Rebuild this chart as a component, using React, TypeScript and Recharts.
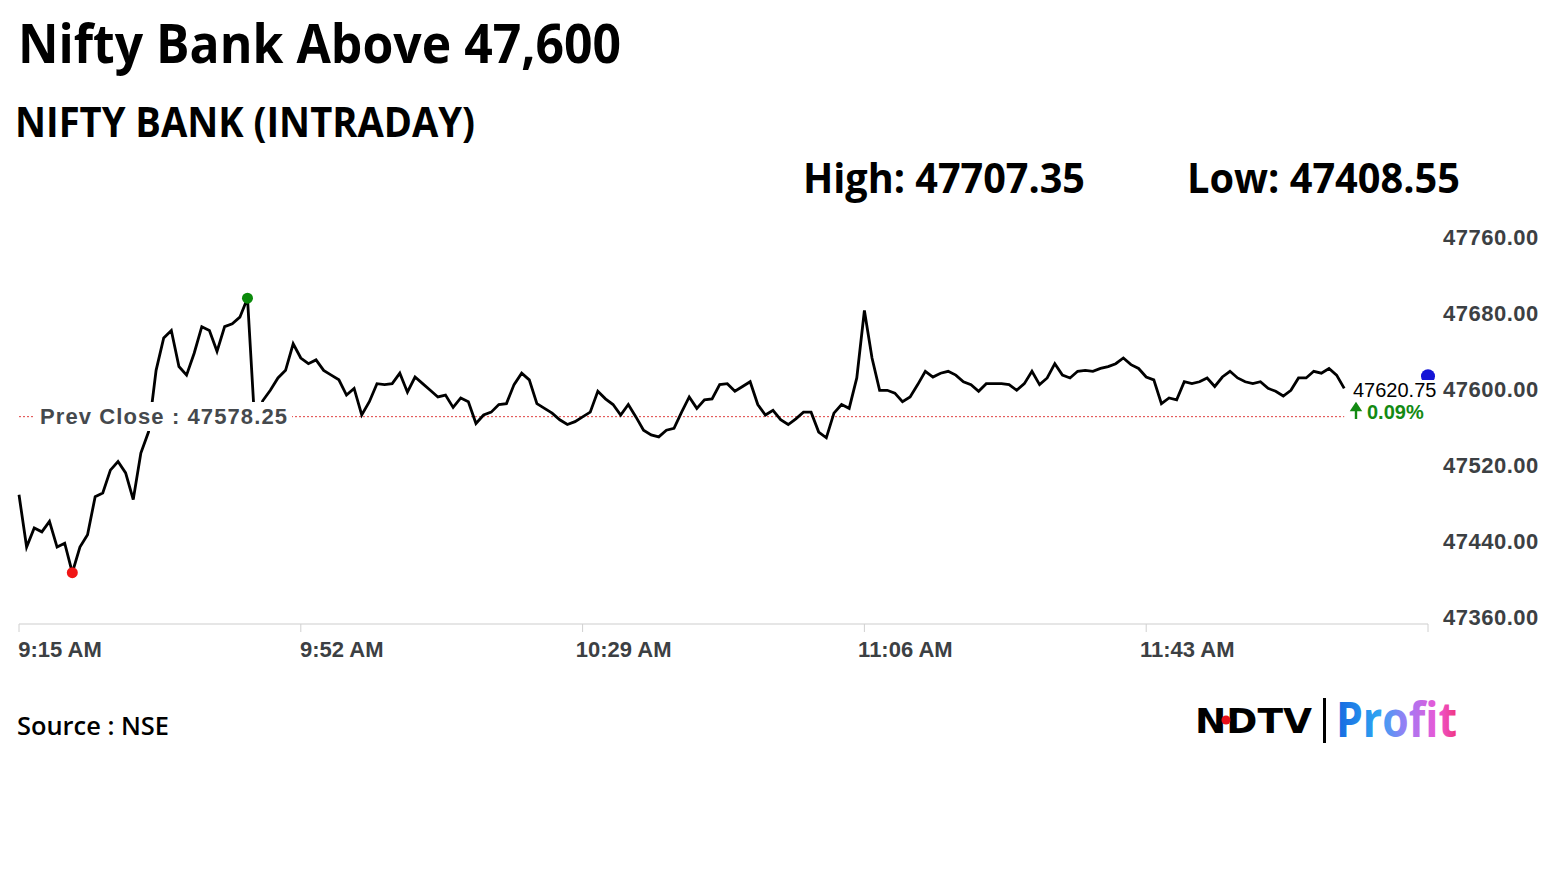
import React from "react";
import { LineChart, Line, XAxis, YAxis, ReferenceLine, ReferenceDot } from "recharts";

// NIFTY BANK intraday, one value per minute from 9:15 AM
const prices = [
  47496, 47441, 47461, 47457, 47468, 47441, 47445, 47414, 47441, 47454,
  47494, 47498, 47522, 47531, 47519, 47491, 47540, 47562, 47627, 47661,
  47669, 47631, 47622, 47645, 47673, 47669, 47647, 47673, 47676, 47683,
  47703, 47565, 47595, 47606, 47619, 47627, 47655, 47640, 47634, 47638,
  47627, 47622, 47617, 47601, 47608, 47580, 47594, 47613, 47612, 47613,
  47624, 47604, 47620, 47613, 47606, 47599, 47601, 47588, 47598, 47594,
  47571, 47580, 47583, 47591, 47592, 47612, 47624, 47617, 47592, 47587,
  47582, 47575, 47570, 47573, 47578, 47583, 47605, 47597, 47591, 47580,
  47591, 47578, 47564, 47559, 47557, 47564, 47566, 47583, 47599, 47587,
  47596, 47597, 47612, 47613, 47605, 47610, 47615, 47591, 47580, 47585,
  47575, 47570, 47576, 47583, 47583, 47562, 47556, 47582, 47591, 47587,
  47619, 47690, 47640, 47606, 47606, 47603, 47594, 47599, 47612, 47626,
  47620, 47624, 47626, 47622, 47615, 47612, 47605, 47613, 47613, 47613,
  47612, 47606, 47613, 47626, 47612, 47619, 47634, 47622, 47619, 47626,
  47627, 47626, 47629, 47631, 47634, 47640, 47633, 47629, 47620, 47617,
  47592, 47598, 47596, 47615, 47613, 47615, 47619, 47610, 47620, 47626,
  47619, 47615, 47613, 47615, 47608, 47605, 47600, 47606, 47619, 47619,
  47626, 47624, 47629, 47622, 47608,
];

const minuteTicks = [0, 37, 74, 111, 148, 185];
const timeLabels = ["9:15 AM", "9:52 AM", "10:29 AM", "11:06 AM", "11:43 AM", ""];
const priceTicks = [47360, 47440, 47520, 47600, 47680, 47760];
const sessionEnd = 185;

const prevClose = 47578.25;
const lastPrice = 47620.75;
const changePct = "0.09%";
const dayHigh = "47707.35";
const dayLow = "47408.55";

const data = prices.map((price, minute) => ({ minute, price }));
const hiIdx = prices.indexOf(Math.max(...prices));
const loIdx = prices.indexOf(Math.min(...prices));

const axisFont = "'Liberation Sans', Arial, sans-serif";
const headFont = "'Open Sans', 'Noto Sans', sans-serif";

function TimeTick({ x, y, payload }: any) {
  const label = timeLabels[minuteTicks.indexOf(payload.value)];
  return (
    <text x={x + 41} y={y + 25} textAnchor="middle" fontFamily={axisFont} fontWeight={700} fontSize={22} fill="#3c4043">
      {label}
    </text>
  );
}

function PriceTick({ x, y, payload }: any) {
  return (
    <text x={x} y={y + 1} textAnchor="start" fontFamily={axisFont} fontWeight={700} fontSize={22} letterSpacing={0.5} fill="#3c4043">
      {Number(payload.value).toFixed(2)}
    </text>
  );
}

export default function App() {
  return (
    <div style={{ position: "relative", width: 1555, height: 874, background: "#fff" }}>
      <style>{"body{margin:0}"}</style>
      <div style={{ position: "absolute", left: 0, top: 0 }}>
        <LineChart width={1555} height={700} data={data} margin={{ top: 244, left: 19, right: 17, bottom: 36 }}>
          <XAxis
            dataKey="minute"
            type="number"
            domain={[0, sessionEnd]}
            ticks={minuteTicks}
            interval={0}
            height={40}
            axisLine={{ stroke: "#e6e6e6", strokeWidth: 2 }}
            tickLine={{ stroke: "#d0d0d0" }}
            tickSize={8}
            tickMargin={0}
            tick={<TimeTick />}
          />
          <YAxis
            orientation="right"
            width={110}
            domain={[47360, 47760]}
            ticks={priceTicks}
            interval={0}
            axisLine={false}
            tickLine={false}
            tickSize={0}
            tickMargin={15}
            tick={<PriceTick />}
          />
          <ReferenceLine
            segment={[
              { x: 0, y: prevClose },
              { x: prices.length - 1, y: prevClose },
            ]}
            stroke="#e04040"
            strokeDasharray="2 2"
            strokeWidth={1}
          />
          <Line
            type="linear"
            dataKey="price"
            stroke="#000"
            strokeWidth={2.8}
            strokeLinejoin="miter"
            dot={false}
            isAnimationActive={false}
          />
          <ReferenceDot x={hiIdx} y={prices[hiIdx]} r={5.5} fill="#0b8a0b" stroke="none" />
          <ReferenceDot x={loIdx} y={prices[loIdx]} r={5.5} fill="#f01616" stroke="none" />
          <ReferenceDot x={sessionEnd} y={lastPrice} r={7} fill="#1414d6" stroke="none" ifOverflow="visible" />
        </LineChart>
      </div>

      <svg width={1555} height={874} style={{ position: "absolute", left: 0, top: 0, pointerEvents: "none" }}>
        <defs>
          <linearGradient id="profitGrad" gradientUnits="userSpaceOnUse" x1={1336} y1={0} x2={1457} y2={0}>
            <stop offset="0" stopColor="#1668e0" />
            <stop offset="0.35" stopColor="#2ea3f2" />
            <stop offset="0.6" stopColor="#a47af5" />
            <stop offset="0.85" stopColor="#ee55d2" />
            <stop offset="1" stopColor="#f0357c" />
          </linearGradient>
        </defs>

        <text x={18} y={63} fontFamily={headFont} fontWeight={700} fontSize={54} textLength={603} lengthAdjust="spacingAndGlyphs" fill="#000">
          Nifty Bank Above 47,600
        </text>
        <text x={15} y={137} fontFamily={headFont} fontWeight={700} fontSize={41} textLength={460} lengthAdjust="spacingAndGlyphs" fill="#000">
          NIFTY BANK (INTRADAY)
        </text>
        <text x={803} y={193} fontFamily={headFont} fontWeight={700} fontSize={41} textLength={282} lengthAdjust="spacingAndGlyphs" fill="#000">
          {`High: ${dayHigh}`}
        </text>
        <text x={1187} y={193} fontFamily={headFont} fontWeight={700} fontSize={41} textLength={273} lengthAdjust="spacingAndGlyphs" fill="#000">
          {`Low: ${dayLow}`}
        </text>

        <rect x={34} y={402} width={258} height={29} fill="#fff" />
        <text x={40} y={424} fontFamily={axisFont} fontWeight={700} fontSize={22} textLength={247} lengthAdjust="spacing" fill="#45494d">
          {`Prev Close : ${prevClose}`}
        </text>

        <rect x={1349} y={380} width={89} height={21} fill="#fff" />
        <text x={1353} y={397} fontFamily={axisFont} fontSize={20} fill="#000">
          {lastPrice.toFixed(2)}
        </text>
        <path d="M1356 419 L1356 409 M1352 410 L1356 404 L1360 410 Z" stroke="#138a13" strokeWidth={2.4} fill="#138a13" />
        <text x={1367} y={419} fontFamily={axisFont} fontWeight={700} fontSize={20} fill="#138a13">
          {changePct}
        </text>

        <text x={17} y={735} fontFamily={headFont} fontWeight={600} fontSize={26} textLength={152} lengthAdjust="spacingAndGlyphs" fill="#000">
          Source : NSE
        </text>

        <text x={1195} y={733} fontFamily="'DejaVu Sans', sans-serif" fontWeight={700} fontSize={34} textLength={117} lengthAdjust="spacingAndGlyphs" fill="#000">
          NDTV
        </text>
        <circle cx={1226} cy={720} r={4.5} fill="#e8101a" />
        <rect x={1323} y={698} width={3} height={45} fill="#000" />
        <text x={1336} y={737} fontFamily={headFont} fontWeight={700} fontSize={48} textLength={121} lengthAdjust="spacingAndGlyphs" fill="url(#profitGrad)">
          Profit
        </text>
      </svg>
    </div>
  );
}
